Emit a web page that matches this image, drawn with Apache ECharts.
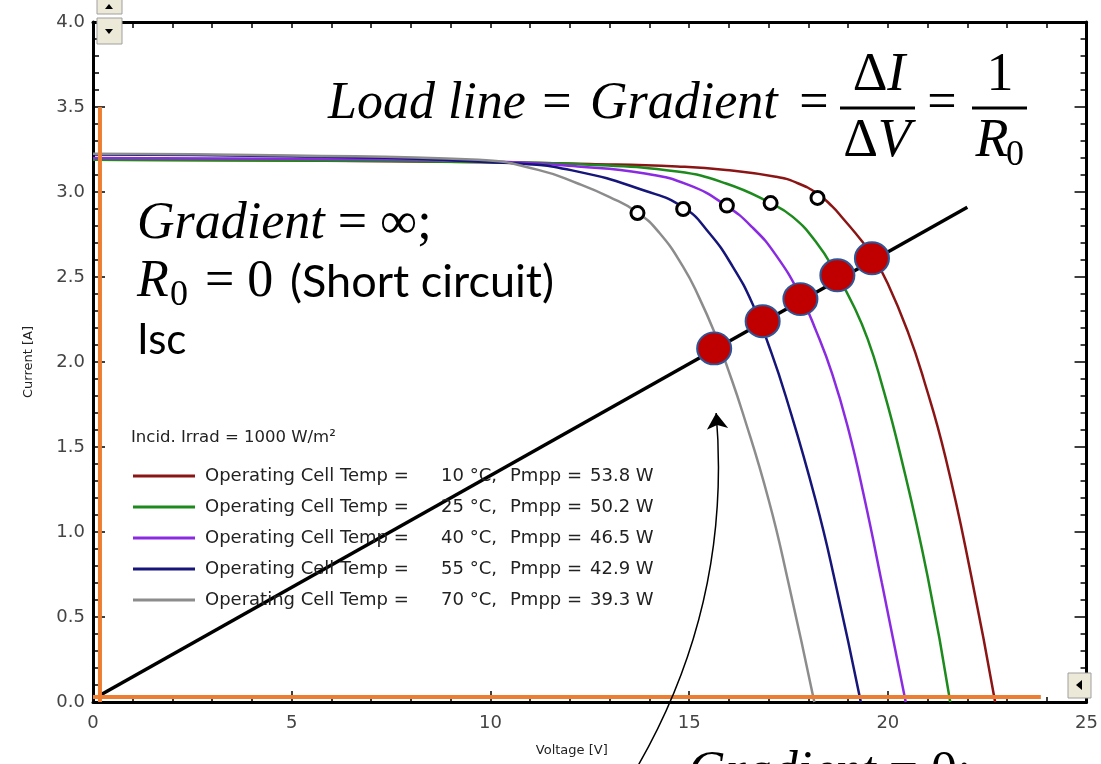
<!DOCTYPE html>
<html><head><meta charset="utf-8">
<script src="https://cdn.jsdelivr.net/npm/echarts@6/dist/echarts.min.js"></script>
<style>html,body{margin:0;padding:0;background:#fff;overflow:hidden}#c{width:1101px;height:764px}</style>
</head><body><div id="c"></div>
<script>
// ---------------- data ----------------
const tempLabels = ['10', '25', '40', '55', '70'];
const pmppLabels = ['53.8', '50.2', '46.5', '42.9', '39.3'];
const irradLabel = 'Incid. Irrad = 1000 W/m²';
const xAxisName = 'Voltage [V]';
const yAxisName = 'Current [A]';

// I-V curves [voltage V, current A]
const ivCurve10 = [[0,3.19],[5,3.185],[10,3.175],[12.5,3.165],[14.7,3.15],[15.93,3.13],[17.18,3.09],[17.7,3.055],[18.23,2.99],[18.6,2.915],[18.85,2.85],[19.35,2.71],[19.65,2.61],[20.0,2.46],[20.5,2.18],[20.9,1.90],[21.45,1.44],[22.1,0.74],[22.7,0]];
const ivCurve25 = [[0,3.19],[5,3.185],[10,3.175],[12.5,3.16],[14.7,3.12],[15.93,3.05],[17.05,2.935],[17.6,2.855],[18.18,2.71],[18.73,2.51],[19.18,2.31],[19.5,2.13],[19.8,1.91],[20.3,1.47],[21.0,0.74],[21.57,0]];
const ivCurve40 = [[0,3.20],[5,3.195],[10,3.18],[12.2,3.15],[13.85,3.11],[15.0,3.04],[15.93,2.92],[16.6,2.79],[17.18,2.63],[17.8,2.39],[18.2,2.18],[18.6,1.93],[19.0,1.61],[19.4,1.21],[19.85,0.70],[20.45,0]];
const ivCurve55 = [[0,3.22],[5,3.21],[10.5,3.17],[12.2,3.12],[13.85,3.01],[14.85,2.91],[15.5,2.76],[16.1,2.56],[16.6,2.34],[17.0,2.10],[17.43,1.80],[18.18,1.19],[18.68,0.70],[19.32,0]];
const ivCurve70 = [[0,3.225],[5,3.215],[9.7,3.19],[11.2,3.13],[12.2,3.05],[13.0,2.97],[13.7,2.88],[14.25,2.76],[14.85,2.56],[15.25,2.38],[15.68,2.15],[15.93,1.99],[16.35,1.70],[17.0,1.19],[17.5,0.70],[18.15,0]];

// maximum power points (open circles)
const mppPoints = [[13.7,2.876],[14.85,2.90],[15.95,2.92],[17.05,2.935],[18.23,2.965]];
// load-line operating points (red dots)
const operatingPoints = [[15.63,2.08],[16.85,2.24],[17.8,2.37],[18.73,2.51],[19.6,2.61]];
// load line
const loadLine = [[0.175,0.04],[22.0,2.91]];
// short-circuit (vertical) and open-circuit (horizontal) limit lines
const shortCircuitLine = [[0.175,0],[0.175,3.5]];
const openCircuitLine = [[0,0.03],[23.85,0.03]];
// annotation arrow (from below the axis up to the first operating point)
const arrowPath = [[13.6,-0.42],[15.68,1.70]];

// ---------------- styles ----------------
const CURVES = [ivCurve10, ivCurve25, ivCurve40, ivCurve55, ivCurve70];
const COLORS = ['#8b1515', '#1d8a1d', '#8a2be2', '#15157a', '#8c8c8c'];
const SANS = "'DejaVu Sans', sans-serif";
const SERIF = "'Liberation Serif', serif";
const MATHI = "italic 52px " + SERIF;
const MATH = "52px " + SERIF;
const FRACI = "italic 54px " + SERIF;
const FRAC = "54px " + SERIF;

const names = tempLabels.map((t, i) => 'Operating Cell Temp = ' + t + ' °C, Pmpp = ' + pmppLabels[i] + ' W');

const chart = echarts.init(document.getElementById('c'), null, {renderer: 'canvas'});

const series = CURVES.map((d, i) => ({
  name: names[i], type: 'line', data: d, showSymbol: false, symbol: 'none',
  smooth: 0.5, z: 2,
  lineStyle: {color: COLORS[i], width: 2.5}, itemStyle: {color: COLORS[i]}
}));
series.push(
  {type: 'line', data: loadLine, symbol: 'none', z: 3, lineStyle: {color: '#000', width: 3.5}},
  {type: 'line', data: shortCircuitLine, symbol: 'none', z: 4, lineStyle: {color: '#ed7d31', width: 4}},
  {type: 'line', data: openCircuitLine, symbol: 'none', z: 4, lineStyle: {color: '#ed7d31', width: 4}},
  {type: 'scatter', data: mppPoints, symbol: 'circle', symbolSize: 13, z: 5,
   itemStyle: {color: '#fff', borderColor: '#000', borderWidth: 3, opacity: 1}},
  {type: 'scatter', data: operatingPoints, symbol: 'circle', symbolSize: [34, 32], z: 6,
   itemStyle: {color: '#c00000', borderColor: '#2f5597', borderWidth: 2, opacity: 1}},
  {type: 'lines', coordinateSystem: 'cartesian2d', clip: false, z: 6,
   symbol: ['none', 'arrow'], symbolSize: [11, 16],
   lineStyle: {color: '#000', width: 1.5, curveness: -0.16, opacity: 1},
   data: [{coords: arrowPath}]}
);

function legendFmt(name) {
  const i = names.indexOf(name);
  return '{a|Operating Cell Temp =}{b|' + tempLabels[i] + ' °C,}{c|Pmpp =}{d|' + pmppLabels[i] + ' W}';
}

const axisLineStyle = {show: true, onZero: false, lineStyle: {color: '#000', width: 3}};
const labelStyle = {color: '#444', fontFamily: SANS, fontSize: 18};
const lg = {fontFamily: SANS, fontSize: 18, color: '#222', lineHeight: 18};

const option = {
  animation: false,
  backgroundColor: '#fff',
  grid: {left: 93, right: 8, top: 22, bottom: 62, containLabel: false},
  legend: {
    data: names, orient: 'vertical', left: 133, top: 467, icon: 'rect', itemWidth: 62, itemHeight: 3, itemGap: 13,
    selectedMode: false, padding: 0,
    formatter: legendFmt,
    textStyle: Object.assign({rich: {
      a: Object.assign({width: 236, padding: [0, 0, 0, 5]}, lg),
      b: Object.assign({width: 69}, lg),
      c: Object.assign({width: 80}, lg),
      d: Object.assign({}, lg)
    }}, lg)
  },
  xAxis: [
    {type: 'value', min: 0, max: 25, interval: 5, position: 'bottom',
     name: xAxisName, nameLocation: 'middle', nameGap: 42,
     nameTextStyle: {color: '#222', fontFamily: SANS, fontSize: 13, padding: [0, 36, 0, 0]},
     axisLine: axisLineStyle,
     axisTick: {show: true, inside: true, length: 11, lineStyle: {color: '#000', width: 1.5}},
     minorTick: {show: true, splitNumber: 5, length: 5, lineStyle: {color: '#000', width: 1.5}},
     axisLabel: Object.assign({margin: 12}, labelStyle),
     splitLine: {show: false}},
    {type: 'value', min: 0, max: 25, interval: 1, position: 'top',
     axisLine: axisLineStyle,
     axisTick: {show: true, inside: true, length: 6, lineStyle: {color: '#000', width: 1.5}},
     axisLabel: {show: false}, splitLine: {show: false}}
  ],
  yAxis: [
    {type: 'value', min: 0, max: 4, interval: 0.5, position: 'left',
     name: yAxisName, nameLocation: 'middle', nameGap: 58, nameRotate: 90,
     nameTextStyle: {color: '#222', fontFamily: SANS, fontSize: 13},
     axisLine: axisLineStyle,
     axisTick: {show: true, inside: true, length: 12, lineStyle: {color: '#000', width: 1.5}},
     minorTick: {show: true, splitNumber: 5, length: 6, lineStyle: {color: '#000', width: 1.5}},
     axisLabel: Object.assign({margin: 8, formatter: v => v.toFixed(1)}, labelStyle),
     splitLine: {show: false}},
    {type: 'value', min: 0, max: 4, interval: 0.5, position: 'right',
     axisLine: axisLineStyle,
     axisTick: {show: true, inside: true, length: 12, lineStyle: {color: '#000', width: 1.5}},
     minorTick: {show: true, splitNumber: 5, length: 6, lineStyle: {color: '#000', width: 1.5}},
     axisLabel: {show: false}, splitLine: {show: false}}
  ],
  series: series,
  graphic: [
    // legend header
    {type: 'text', x: 131, y: 438, z: 10, style: {text: irradLabel, font: '16.5px ' + SANS, fill: '#222', verticalAlign: 'middle'}},
    // top formula
    {type: 'text', x: 328, y: 104, z: 10, style: {text: 'Load line', font: MATHI, fill: '#000', verticalAlign: 'middle'}},
    {type: 'text', x: 557, y: 104, z: 10, style: {text: '=', font: MATH, fill: '#000', align: 'center', verticalAlign: 'middle'}},
    {type: 'text', x: 590, y: 104, z: 10, style: {text: 'Gradient', font: MATHI, fill: '#000', verticalAlign: 'middle'}},
    {type: 'text', x: 814, y: 104, z: 10, style: {text: '=', font: MATH, fill: '#000', align: 'center', verticalAlign: 'middle'}},
    {type: 'text', x: 879, y: 76, z: 10, style: {text: '{u|Δ}{i|I}', font: FRACI, fill: '#000', align: 'center', verticalAlign: 'middle',
      rich: {u: {font: FRAC, fill: '#000'}, i: {font: FRACI, fill: '#000'}}}},
    {type: 'line', z: 10, shape: {x1: 840, y1: 108, x2: 915, y2: 108}, style: {stroke: '#000', lineWidth: 3}},
    {type: 'text', x: 877, y: 142, z: 10, style: {text: '{u|Δ}{i|V}', font: FRACI, fill: '#000', align: 'center', verticalAlign: 'middle',
      rich: {u: {font: FRAC, fill: '#000'}, i: {font: FRACI, fill: '#000'}}}},
    {type: 'text', x: 942, y: 104, z: 10, style: {text: '=', font: MATH, fill: '#000', align: 'center', verticalAlign: 'middle'}},
    {type: 'text', x: 1000, y: 76, z: 10, style: {text: '1', font: FRAC, fill: '#000', align: 'center', verticalAlign: 'middle'}},
    {type: 'line', z: 10, shape: {x1: 972, y1: 108, x2: 1027, y2: 108}, style: {stroke: '#000', lineWidth: 3}},
    {type: 'text', x: 992, y: 142, z: 10, style: {text: 'R', font: FRACI, fill: '#000', align: 'center', verticalAlign: 'middle'}},
    {type: 'text', x: 1015, y: 156, z: 10, style: {text: '0', font: '36px ' + SERIF, fill: '#000', align: 'center', verticalAlign: 'middle'}},
    // left block
    {type: 'text', x: 137, y: 224, z: 10, style: {text: '{i|Gradient} {u|= ∞;}', font: MATHI, fill: '#000', verticalAlign: 'middle',
      rich: {u: {font: MATH, fill: '#000'}, i: {font: MATHI, fill: '#000'}}}},
    {type: 'text', x: 137, y: 282, z: 10, style: {text: 'R', font: MATHI, fill: '#000', verticalAlign: 'middle'}},
    {type: 'text', x: 170, y: 296, z: 10, style: {text: '0', font: '36px ' + SERIF, fill: '#000', verticalAlign: 'middle'}},
    {type: 'text', x: 205, y: 282, z: 10, style: {text: '= 0', font: MATH, fill: '#000', verticalAlign: 'middle'}},
    {type: 'text', x: 290, y: 282, z: 10, style: {text: '(Short circuit)', font: '45px Lato, sans-serif', fill: '#000', verticalAlign: 'middle'}},
    {type: 'text', x: 137, y: 340, z: 10, style: {text: 'Isc', font: '42px Lato, sans-serif', fill: '#000', verticalAlign: 'middle'}},
    // bottom (cut off)
    {type: 'text', x: 688, y: 773, z: 10, style: {text: '{i|Gradient} {u|= 0;}', font: MATHI, fill: '#000', verticalAlign: 'middle',
      rich: {u: {font: MATH, fill: '#000'}, i: {font: MATHI, fill: '#000'}}}},
    // scroll buttons (UI artefacts)
    {type: 'rect', z: 20, shape: {x: 97, y: -4, width: 25, height: 18}, style: {fill: '#ece9d8', stroke: '#a0a0a0', lineWidth: 1}},
    {type: 'polygon', z: 21, shape: {points: [[105, 9], [113, 9], [109, 4]]}, style: {fill: '#000'}},
    {type: 'rect', z: 20, shape: {x: 97, y: 18, width: 25, height: 26}, style: {fill: '#ece9d8', stroke: '#a0a0a0', lineWidth: 1}},
    {type: 'polygon', z: 21, shape: {points: [[105, 29], [113, 29], [109, 34]]}, style: {fill: '#000'}},
    {type: 'rect', z: 20, shape: {x: 1068, y: 673, width: 23, height: 25}, style: {fill: '#ece9d8', stroke: '#a0a0a0', lineWidth: 1}},
    {type: 'polygon', z: 21, shape: {points: [[1082, 680], [1082, 690], [1076, 685]]}, style: {fill: '#000'}}
  ]
};
chart.setOption(option);
</script>
</body></html>
